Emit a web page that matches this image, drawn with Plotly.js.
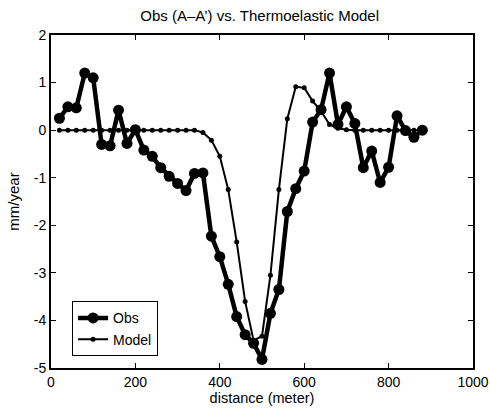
<!DOCTYPE html>
<html>
<head>
<meta charset="utf-8">
<script src="https://cdn.plot.ly/plotly-3.0.1.min.js"></script>
<style>html,body{margin:0;padding:0;background:#fff;}#chart{width:490px;height:409px;}</style>
</head>
<body>
<div id="chart"></div>
<script>
const distance = [20,40,60,80,100,120,140,160,180,200,220,240,260,280,300,320,340,360,380,400,420,440,460,480,500,520,540,560,580,600,620,640,660,680,700,720,740,760,780,800,820,840,860,880];
const obs = [0.25,0.49,0.47,1.2,1.1,-0.3,-0.33,0.42,-0.28,0.01,-0.42,-0.55,-0.79,-0.97,-1.12,-1.27,-0.91,-0.9,-2.23,-2.66,-3.24,-3.92,-4.3,-4.48,-4.82,-3.85,-3.35,-1.71,-1.23,-0.86,0.17,0.43,1.2,0.12,0.49,0.14,-0.79,-0.44,-1.1,-0.78,0.3,-0.01,-0.15,0.0];
const model = [0,0,0,0,0,0,0,0,0,0,0,0,0,0,0,0,0,-0.05,-0.21,-0.55,-1.25,-2.35,-3.6,-4.42,-4.33,-3.05,-1.25,0.24,0.91,0.89,0.61,0.4,0.12,0.04,0.01,0,0,0,0,0,0,0,0,0];
const xTicks = [0,200,400,600,800,1000];
const yTicks = [-5,-4,-3,-2,-1,0,1,2];

const font = {family:'Liberation Sans, Arial, sans-serif', color:'#000'};
const traces = [
  {x:distance, y:obs, name:'Obs', mode:'lines+markers', line:{color:'#000', width:4.5}, marker:{color:'#000', size:11}},
  {x:distance, y:model, name:'Model', mode:'lines+markers', line:{color:'#000', width:2}, marker:{color:'#000', size:5}}
];
const axisCommon = {showgrid:false, zeroline:false, showline:true, linecolor:'#000', linewidth:2, mirror:'allticks', ticks:'inside', ticklen:5, tickwidth:1, tickcolor:'#000', tickfont:Object.assign({size:14}, font)};
const layout = {
  width:490, height:409,
  margin:{l:51, r:17, t:35, b:41},
  paper_bgcolor:'#fff', plot_bgcolor:'#fff',
  font:font,
  title:{text:'Obs (A–A’) vs. Thermoelastic Model', font:Object.assign({size:15}, font), x:0.53, xanchor:'center', y:0.962, yanchor:'middle'},
  xaxis:Object.assign({}, axisCommon, {range:[0,1000], tickvals:xTicks, ticktext:xTicks.map(String), title:{text:'distance (meter)', font:Object.assign({size:14.5}, font), standoff:2}}),
  yaxis:Object.assign({}, axisCommon, {range:[-5,2], tickvals:yTicks, ticktext:yTicks.map(String), title:{text:'mm/year', font:Object.assign({size:15}, font), standoff:10}}),
  showlegend:true,
  legend:{x:0.05, y:0.035, xanchor:'left', yanchor:'bottom', bordercolor:'#000', borderwidth:1, bgcolor:'#fff', font:Object.assign({size:14}, font), tracegroupgap:0, itemwidth:30, valign:'middle'}
};
Plotly.newPlot('chart', traces, layout, {staticPlot:true, displayModeBar:false});
</script>
</body>
</html>
